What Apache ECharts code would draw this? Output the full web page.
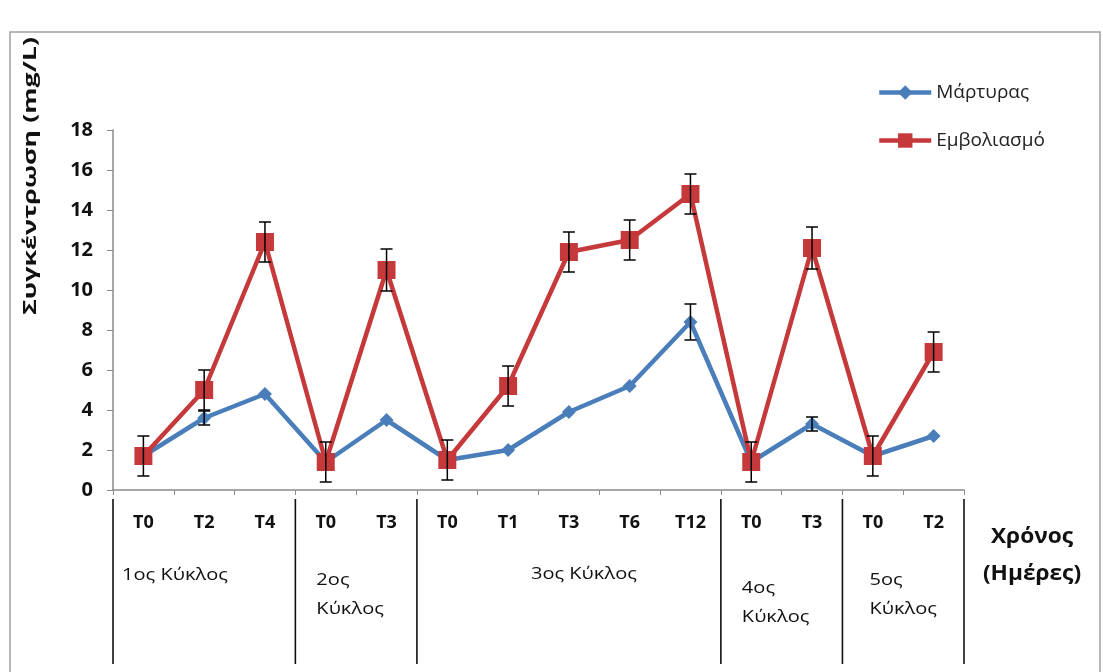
<!DOCTYPE html>
<html><head><meta charset="utf-8">
<script src="https://cdn.jsdelivr.net/npm/echarts@6/dist/echarts.min.js"></script>
<style>html,body{margin:0;padding:0;background:#fff}#c{width:1103px;height:672px}</style>
</head><body><div id="c"></div>
<script>
const categories = ['T0','T2','T4','T0','T3','T0','T1','T3','T6','T12','T0','T3','T0','T2'];
const martyras = [1.7,3.6,4.8,1.4,3.5,1.5,2.0,3.9,5.2,8.4,1.4,3.3,1.7,2.7];
const emvoliasmo = [1.7,5.0,12.4,1.4,11.0,1.5,5.2,11.9,12.5,14.8,1.4,12.1,1.7,6.9];
const martyrasErr = [0,0.35,0,0,0,0,0,0,0,0.9,0,0.35,0,0];
const emvoliasmoErr = [1.0,1.0,1.0,1.0,1.05,1.0,1.0,1.0,1.0,1.0,1.0,1.05,1.0,1.0];
const groupNames = ['1ος Κύκλος','2ος\nΚύκλος','3ος Κύκλος','4ος\nΚύκλος','5ος\nΚύκλος'];
const groupSizes = [3,2,5,2,2];
const yTicks = {min:0, max:18, interval:2};

const FONT = '"Open Sans","Noto Sans",sans-serif';
const chart = echarts.init(document.getElementById('c'));

function errSeries(vals, errs, name) {
  return {
    type: 'custom', name: name + '_err', z: 10, silent: true,
    data: vals.map((v, i) => [i, v, errs[i]]),
    renderItem: function (params, api) {
      const e = api.value(2);
      if (!e) return null;
      const x = api.value(0), v = api.value(1);
      const top = api.coord([x, v + e]);
      const bot = api.coord([x, v - e]);
      const w = 6;
      const st = {stroke: '#000', lineWidth: 1.5};
      return {type: 'group', children: [
        {type: 'line', shape: {x1: top[0], y1: top[1], x2: bot[0], y2: bot[1]}, style: st},
        {type: 'line', shape: {x1: top[0]-w, y1: top[1], x2: top[0]+w, y2: top[1]}, style: st},
        {type: 'line', shape: {x1: bot[0]-w, y1: bot[1], x2: bot[0]+w, y2: bot[1]}, style: st}
      ]};
    },
    encode: {x: 0, y: 1}
  };
}

chart.setOption({
  animation: false,
  backgroundColor: '#fff',
  grid: {left: 113, right: 139, top: 130, bottom: 182},
  legend: {
    data: ['Μάρτυρας', 'Εμβολιασμό'],
    orient: 'vertical', left: 872, top: 78, itemGap: 29,
    itemWidth: 52, itemHeight: 18,
    lineStyle: {width: 4.5},
    textStyle: {fontFamily: FONT, fontSize: 19, color: '#222', padding: [0, 0, 0, 0]}
  },
  xAxis: {
    type: 'category', data: categories, boundaryGap: true,
    axisLine: {lineStyle: {color: '#8a8a8a', width: 1.5}},
    axisTick: {show: true, length: 5, lineStyle: {color: '#8a8a8a'}},
    axisLabel: {fontFamily: FONT, fontWeight: 'bold', fontSize: 18, color: '#111', margin: 24, interval: 0}
  },
  yAxis: {
    type: 'value', min: yTicks.min, max: yTicks.max, interval: yTicks.interval,
    axisLine: {show: true, lineStyle: {color: '#8a8a8a', width: 1.5}},
    axisTick: {show: true, length: 6, lineStyle: {color: '#8a8a8a'}},
    splitLine: {show: false},
    axisLabel: {fontFamily: FONT, fontWeight: 'bold', fontSize: 20, color: '#111', margin: 20}
  },
  series: [
    {name: 'Μάρτυρας', type: 'line', data: martyras, z: 3,
     symbol: 'diamond', symbolSize: 14,
     lineStyle: {color: '#4a7ebb', width: 4.5}, itemStyle: {color: '#4a7ebb'}},
    {name: 'Εμβολιασμό', type: 'line', data: emvoliasmo, z: 4,
     symbol: 'rect', symbolSize: 18,
     lineStyle: {color: '#c6393a', width: 4.5}, itemStyle: {color: '#c6393a'}},
    errSeries(martyras, martyrasErr, 'Μάρτυρας'),
    errSeries(emvoliasmo, emvoliasmoErr, 'Εμβολιασμό')
  ]
});

// Layout of cycle group separators and labels, derived from the axis scale
const groupLayout = [
  {dx: 9,  cy: 575, align: 'left'},
  {dx: 21, cy: 580, align: 'left'},
  {dx: 15, cy: 574, align: 'center'},
  {dx: 21, cy: 588, align: 'left'},
  {dx: 27, cy: 580, align: 'left'}
];
const LH = 29;
const c0 = chart.convertToPixel({xAxisIndex: 0}, 0);
const c1 = chart.convertToPixel({xAxisIndex: 0}, 1);
const band = c1 - c0;
const boundary = i => c0 - band / 2 + i * band;
const graphics = [];
graphics.push({type: 'rect', shape: {x: 10, y: 32, width: 1090, height: 660},
  style: {fill: 'none', stroke: '#a0a0a0', lineWidth: 1.5}, silent: true});
let idx = 0;
for (let g = 0; g <= groupSizes.length; g++) {
  const bx = boundary(idx);
  graphics.push({type: 'line', shape: {x1: bx, y1: 499, x2: bx, y2: 664},
    style: {stroke: '#111', lineWidth: 1.6}});
  if (g < groupSizes.length) {
    const L = groupLayout[g];
    const left = bx, right = boundary(idx + groupSizes[g]);
    const x = L.align === 'center' ? (left + right) / 2 + L.dx : left + L.dx;
    graphics.push({type: 'text', x: x, y: L.cy - LH / 2, scaleX: 1.18,
      style: {text: groupNames[g], fontFamily: FONT, fontSize: 17, fill: '#111',
              align: L.align, verticalAlign: 'top', lineHeight: LH}});
    idx += groupSizes[g];
  }
}
graphics.push({type: 'text', x: 1032, y: 537, scaleX: 1.08,
  style: {text: 'Χρόνος', fontFamily: FONT, fontWeight: 'bold', fontSize: 21,
          fill: '#111', align: 'center', verticalAlign: 'middle'}});
graphics.push({type: 'text', x: 1032, y: 574, scaleX: 1.08,
  style: {text: '(Ημέρες)', fontFamily: FONT, fontWeight: 'bold', fontSize: 21,
          fill: '#111', align: 'center', verticalAlign: 'middle'}});
graphics.push({type: 'text', x: 31, y: 176, rotation: Math.PI / 2, scaleX: 1.49,
  style: {text: 'Συγκέντρωση (mg/L)', fontFamily: FONT, fontWeight: 'bold', fontSize: 18,
          fill: '#111', align: 'center', verticalAlign: 'middle'}});
chart.setOption({graphic: graphics});
</script></body></html>
